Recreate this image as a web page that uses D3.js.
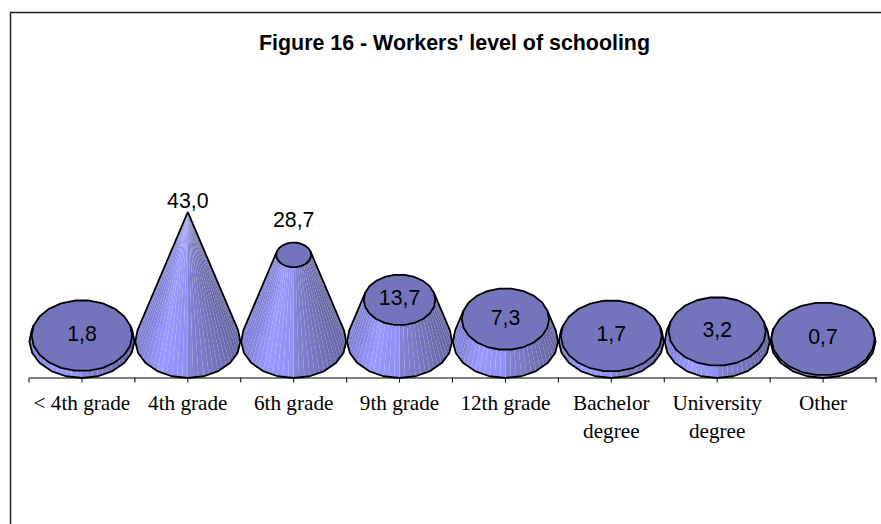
<!DOCTYPE html>
<html>
<head>
<meta charset="utf-8">
<script src="https://cdn.jsdelivr.net/npm/d3@7"></script>
<style>
html, body { margin: 0; padding: 0; background: #fff; }
svg { display: block; }
</style>
</head>
<body>
<svg width="881" height="524"></svg>
<script>
var categories = ["< 4th grade", "4th grade", "6th grade", "9th grade", "12th grade", "Bachelor degree", "University degree", "Other"];
var values = [1.8, 43.0, 28.7, 13.7, 7.3, 1.7, 3.2, 0.7];
var valueLabels = ["1,8", "43,0", "28,7", "13,7", "7,3", "1,7", "3,2", "0,7"];
var titleText = "Figure 16 - Workers' level of schooling";

var svg = d3.select("svg"),
    baseY = 341,    // centre of the base ellipses
    axisY = 377.5,
    ry = 37;

var x = d3.scaleBand().domain(categories).range([29, 876]);
var y = d3.scaleLinear().domain([0, d3.max(values)]).range([baseY, 212]);

var rx = x.bandwidth() / 2 - 0.4;
var coneH = y(0) - y(d3.max(values));
var backAngle = Math.asin(ry / coneH); // where the side of the cone meets the base
var step = Math.PI * 2 / 60;

var shade = d3.scaleLinear()
    .domain([-1, -0.55, -0.02, 0.02, 1])
    .range(["#7d7dd2", "#9999ff", "#9090f2", "#8484d8", "#6666a2"]);

// frame, only top and left are in the picture
svg.append("path")
    .attr("d", "M10.5,524V12.5H881")
    .attr("fill", "none")
    .attr("stroke", "#222")
    .attr("stroke-width", 1.5);

svg.append("text")
    .attr("x", 454.5)
    .attr("y", 49.5)
    .attr("text-anchor", "middle")
    .style("font", "bold 21.4px 'Liberation Sans', Arial, sans-serif")
    .text(titleText);

// axis: one tick per band centre and one per band edge
var axis = svg.append("g")
    .attr("transform", "translate(0," + axisY + ")")
    .call(d3.axisBottom(x).tickSize(5).tickSizeOuter(0).tickFormat(""));
axis.selectAll(".domain").attr("stroke", "#000");
axis.selectAll(".tick line").attr("stroke", "#000");
axis.selectAll(".edge")
    .data(categories.map(function(d) { return x(d); }).concat([x.range()[1]]))
    .enter().append("line")
    .attr("x1", function(d) { return d; })
    .attr("x2", function(d) { return d; })
    .attr("y2", 5)
    .attr("stroke", "#000");

var labelFont = "21.2px 'Liberation Serif', 'Times New Roman', serif";
categories.forEach(function(c) {
    var words = c.indexOf("degree") > 0 ? c.split(" ") : [c];
    words.forEach(function(w, i) {
        svg.append("text")
            .attr("x", x(c) + x.bandwidth() / 2)
            .attr("y", 410 + i * 27.5)
            .attr("text-anchor", "middle")
            .style("font", labelFont)
            .text(w);
    });
});

var line = d3.line();

function point(cx, v, t) {
    var k = 1 - v / d3.max(values);
    return [cx + rx * k * Math.cos(t), y(v) + ry * k * Math.sin(t)];
}

values.forEach(function(v, i) {
    var cx = x(categories[i]) + x.bandwidth() / 2;
    var g = svg.append("g");
    var n = Math.round((Math.PI + 2 * backAngle) / step);
    var angles = d3.range(n + 1).map(function(j) {
        return -backAngle + j * (Math.PI + 2 * backAngle) / n;
    });

    // side of the cone, a lot of thin facets so the light seams show
    g.selectAll(".facet")
        .data(angles.slice(0, n))
        .enter().append("path")
        .attr("class", "facet")
        .attr("d", function(t, j) {
            var t2 = angles[j + 1];
            return line([point(cx, 0, t), point(cx, 0, t2), point(cx, v, t2), point(cx, v, t)]) + "Z";
        })
        .attr("fill", function(t) { return shade(Math.cos(t + step / 2)); });

    // outline: coarser than the facets, gives the slightly polygonal edge
    var coarse = angles.filter(function(t, j) { return j % 3 === 0 || j === n; });
    var outline = [point(cx, v, angles[0])].concat(coarse.map(function(t) { return point(cx, 0, t); }));
    outline.push(point(cx, v, angles[n]));
    g.append("path")
        .attr("d", line(outline))
        .attr("fill", "none")
        .attr("stroke", "#000")
        .attr("stroke-width", 1.8)
        .attr("stroke-linejoin", "round");

    if (v < d3.max(values)) {
        var topPts = d3.range(22).map(function(j) { return point(cx, v, j * Math.PI * 2 / 22); });
        g.append("path")
            .attr("d", line(topPts) + "Z")
            .attr("fill", "#7474bc")
            .attr("stroke", "#000")
            .attr("stroke-width", 1.8)
            .attr("stroke-linejoin", "round");
    }
});

// value labels: the two tallest were pulled up above the shape in the original
var labelNudge = { "4th grade": -10, "6th grade": -33 };
values.forEach(function(v, i) {
    var c = categories[i];
    svg.append("text")
        .attr("x", x(c) + x.bandwidth() / 2)
        .attr("y", y(v) + 5.5 + (labelNudge[c] || 0))
        .attr("text-anchor", "middle")
        .style("font", "21.3px 'Liberation Sans', Arial, sans-serif")
        .text(valueLabels[i]);
});
</script>
</body>
</html>
